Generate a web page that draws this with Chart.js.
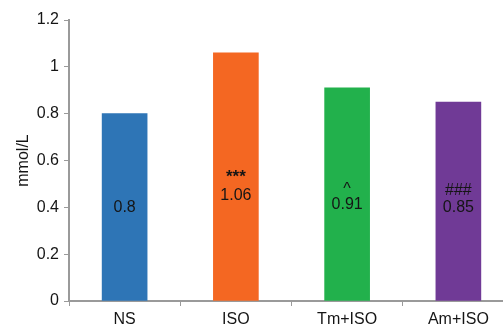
<!DOCTYPE html>
<html><head><meta charset="utf-8">
<script src="https://cdn.jsdelivr.net/npm/chart.js@4/dist/chart.umd.min.js"></script>
<style>html,body{margin:0;padding:0;background:#fff;overflow:hidden;width:503px;height:331px}canvas{display:block}</style>
</head><body>
<canvas id="c" width="514" height="331"></canvas>
<script>
const categories = ["NS", "ISO", "Tm+ISO", "Am+ISO"];
const values = [0.80, 1.06, 0.91, 0.85];
const valueLabels = ["0.8", "1.06", "0.91", "0.85"];
const marks = ["", "***", "^", "###"];
const colors = ["#2E75B6", "#F46722", "#22B14C", "#703A96"];
const yTicks = [0, 0.2, 0.4, 0.6, 0.8, 1, 1.2];

const FONT = "'Liberation Sans', Arial, sans-serif";
const AXIS = "#9a9a9a";
const TEXT = "#151515";

const labelPlugin = {
  id: 'barText',
  afterDatasetsDraw(chart, args, opts) {
    const ctx = chart.ctx, y = chart.scales.y;
    const meta = chart.getDatasetMeta(0);
    ctx.save();
    ctx.textAlign = 'center';
    ctx.textBaseline = 'middle';
    ctx.fillStyle = TEXT;
    meta.data.forEach((bar, i) => {
      ctx.font = "16px " + FONT;
      ctx.fillText(valueLabels[i], bar.x, y.getPixelForValue(opts.valuePos[i]));
      if (marks[i]) {
        ctx.font = opts.markFont[i] + FONT;
        ctx.fillText(marks[i], bar.x, y.getPixelForValue(opts.markPos[i]));
      }
    });
    ctx.restore();
  }
};

new Chart(document.getElementById('c'), {
  type: 'bar',
  data: {
    labels: categories,
    datasets: [{ data: values, backgroundColor: colors, borderWidth: 0,
      barThickness: 45 }]
  },
  options: {
    responsive: false,
    animation: false,
    layout: { padding: { top: 20, right: 0, bottom: 0, left: 0 } },
    plugins: {
      legend: { display: false },
      tooltip: { enabled: false },
      barText: {
        valuePos: [0.40, 0.451, 0.413, 0.40],
        markPos: [0, 0.53, 0.475, 0.47],
        markFont: ["", "bold 17px ", "16px ", "16px "]
      }
    },
    scales: {
      x: {
        offset: true,
        grid: { drawOnChartArea: false, color: AXIS, tickLength: 5, offset: true },
        border: { color: AXIS, width: 2 },
        ticks: { color: TEXT, font: { family: FONT, size: 16 }, padding: 4, maxRotation: 0 },
        afterFit(s) { s.height = 30; }
      },
      y: {
        min: 0, max: 1.2,
        afterBuildTicks(s) { s.ticks = yTicks.map(v => ({ value: v })); },
        grid: { drawOnChartArea: false, color: AXIS, tickLength: 5 },
        border: { color: AXIS, width: 2 },
        ticks: { color: TEXT, font: { family: FONT, size: 16 }, padding: 5,
          callback: v => String(v) },
        title: { display: true, text: 'mmol/L', color: TEXT, font: { family: FONT, size: 16 }, padding: { top: 14, bottom: 0 } },
        afterFit(s) { s.width = 69; }
      }
    }
  },
  plugins: [labelPlugin]
});
</script>
</body></html>
